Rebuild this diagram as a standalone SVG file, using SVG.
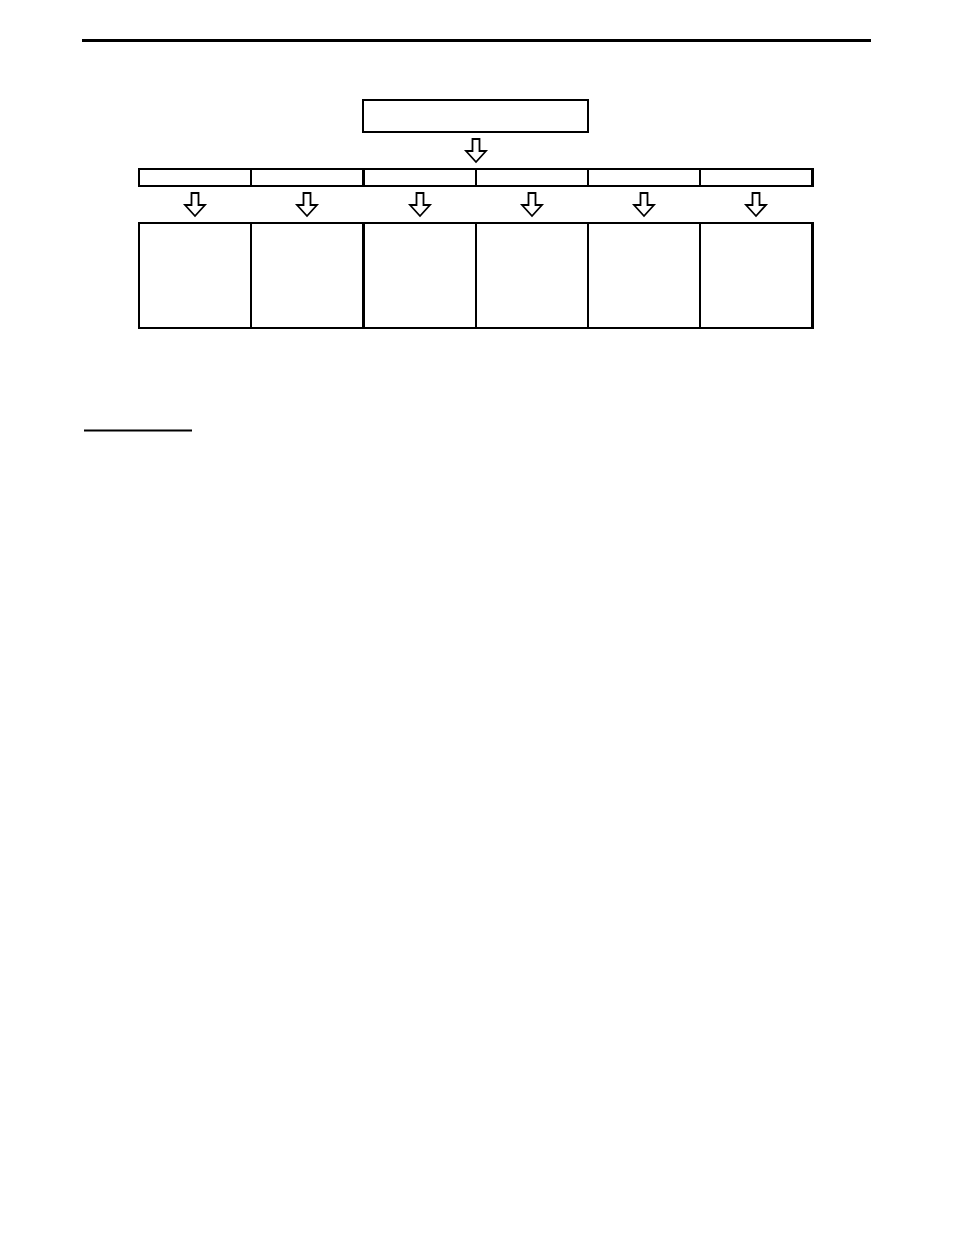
<svg xmlns="http://www.w3.org/2000/svg" width="954" height="1235" viewBox="0 0 954 1235">
<style>
.box{fill:#fff;stroke:#000;stroke-width:2}
.arr{fill:#fff;stroke:#000;stroke-width:1.8;stroke-linejoin:miter}
.rule{stroke:#000;fill:none}
</style>
<defs>
<path id="down" class="arr" d="M-3.5,0 L3.5,0 L3.5,12 L10,12 L0,23 L-10,12 L-3.5,12 Z"/>
</defs>
<rect width="954" height="1235" fill="#fff"/>
<line class="rule" x1="82" y1="40.5" x2="871" y2="40.5" stroke-width="3"/>
<line class="rule" x1="84" y1="430.5" x2="192" y2="430.5" stroke-width="2"/>
<g id="top"><rect class="box" x="363" y="100" width="225" height="32"/></g>
<g id="row">
<rect class="box" x="139" y="169" width="112" height="17"/>
<rect class="box" x="251" y="169" width="112" height="17"/>
<rect class="box" x="363" y="169" width="113" height="17"/>
<rect class="box" x="476" y="169" width="112" height="17"/>
<rect class="box" x="588" y="169" width="112" height="17"/>
<rect class="box" x="700" y="169" width="112" height="17"/>
<line class="rule" x1="363.5" y1="168" x2="363.5" y2="187" stroke-width="3"/>
<line class="rule" x1="812.5" y1="168" x2="812.5" y2="187" stroke-width="3"/>
</g>
<g id="cols">
<rect class="box" x="139" y="223" width="112" height="105"/>
<rect class="box" x="251" y="223" width="112" height="105"/>
<rect class="box" x="363" y="223" width="113" height="105"/>
<rect class="box" x="476" y="223" width="112" height="105"/>
<rect class="box" x="588" y="223" width="112" height="105"/>
<rect class="box" x="700" y="223" width="112" height="105"/>
<line class="rule" x1="363.5" y1="222" x2="363.5" y2="329" stroke-width="3"/>
<line class="rule" x1="812.5" y1="222" x2="812.5" y2="329" stroke-width="3"/>
</g>
<g id="connectors">
<use href="#down" x="476" y="139"/>
<use href="#down" x="195" y="193"/>
<use href="#down" x="307" y="193"/>
<use href="#down" x="420" y="193"/>
<use href="#down" x="532" y="193"/>
<use href="#down" x="644" y="193"/>
<use href="#down" x="756" y="193"/>
</g>
</svg>
